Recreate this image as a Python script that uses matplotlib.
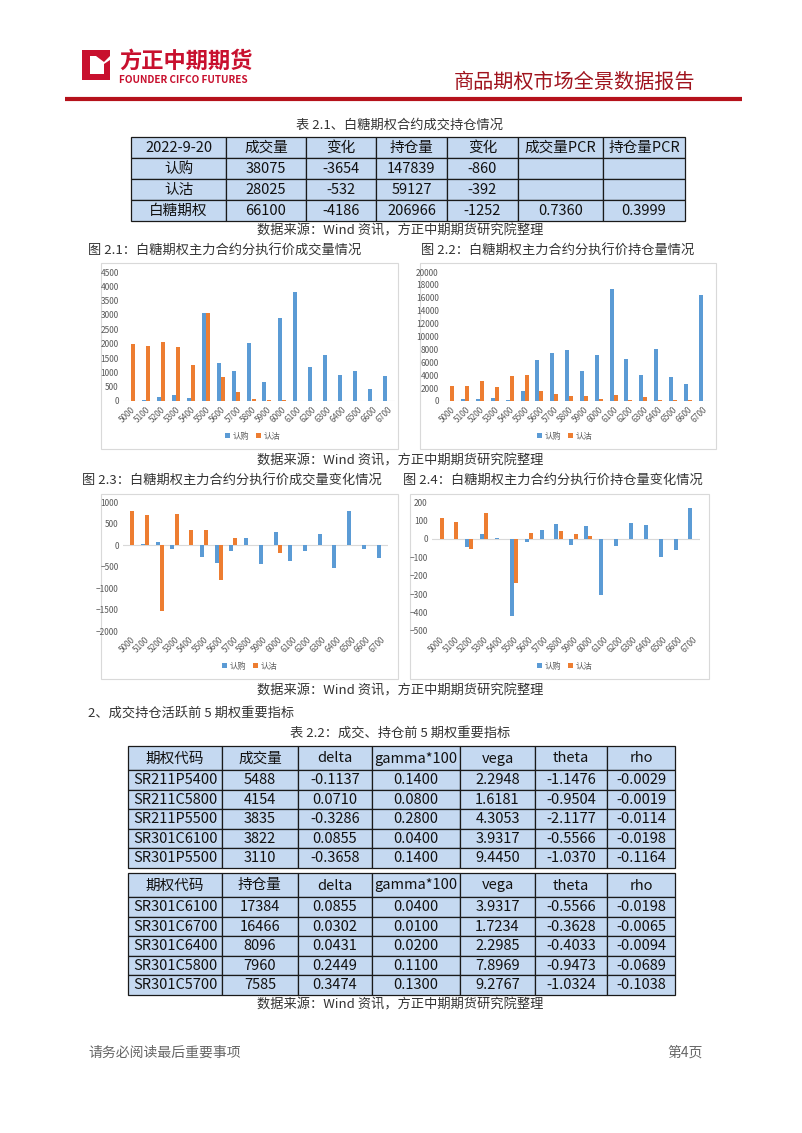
import matplotlib
matplotlib.use('Agg')
import matplotlib.pyplot as plt
from matplotlib.patches import Rectangle, Polygon
import numpy as np

plt.rcParams['font.family'] = ['Noto Sans CJK SC', 'DejaVu Sans']

W, H = 802, 1133

strikes = ['5000', '5100', '5200', '5300', '5400', '5500', '5600', '5700', '5800',
           '5900', '6000', '6100', '6200', '6300', '6400', '6500', '6600', '6700']

# fig 2.1 volume by strike
vol_call = [0, 30, 130, 200, 100, 3080, 1320, 1040, 2040, 680, 2880, 3800, 1190, 1620, 910, 1040, 430, 860]
vol_put = [1990, 1920, 2060, 1880, 1250, 3080, 820, 320, 80, 50, 50, 0, 0, 0, 0, 0, 0, 0]
# fig 2.2 open interest by strike
oi_call = [0, 250, 250, 450, 200, 1500, 6300, 7500, 7900, 4600, 7200, 17384, 6500, 4100, 8096, 3700, 2600, 16466]
oi_put = [2400, 2400, 3100, 2200, 3800, 4000, 1500, 1100, 700, 800, 350, 900, 150, 550, 150, 150, 100, 50]
# fig 2.3 volume change
dvol_call = [0, 30, 70, -90, 0, -290, -410, -140, 160, -440, 300, -370, -150, 260, -540, 790, -90, -310]
dvol_put = [790, 690, -1530, 710, 360, 350, -820, 170, 10, 0, -190, 0, 0, 0, 0, 0, 0, 0]
# fig 2.4 open interest change
doi_call = [0, 0, -45, 28, 5, -420, -18, 50, 80, -35, 68, -305, -38, 87, 75, -100, -62, 165]
doi_put = [112, 90, -55, 143, 0, -240, 30, 0, 45, 25, 18, 0, 0, 0, 0, 0, 0, 0]

# table 2.1
t1_header = ['2022-9-20', '成交量', '变化', '持仓量', '变化', '成交量PCR', '持仓量PCR']
t1_rows = [['认购', '38075', '-3654', '147839', '-860', '', ''],
           ['认沽', '28025', '-532', '59127', '-392', '', ''],
           ['白糖期权', '66100', '-4186', '206966', '-1252', '0.7360', '0.3999']]

# table 2.2
t2_header = ['期权代码', '成交量', 'delta', 'gamma*100', 'vega', 'theta', 'rho']
t2_rows = [['SR211P5400', '5488', '-0.1137', '0.1400', '2.2948', '-1.1476', '-0.0029'],
           ['SR211C5800', '4154', '0.0710', '0.0800', '1.6181', '-0.9504', '-0.0019'],
           ['SR211P5500', '3835', '-0.3286', '0.2800', '4.3053', '-2.1177', '-0.0114'],
           ['SR301C6100', '3822', '0.0855', '0.0400', '3.9317', '-0.5566', '-0.0198'],
           ['SR301P5500', '3110', '-0.3658', '0.1400', '9.4450', '-1.0370', '-0.1164']]
t3_header = ['期权代码', '持仓量', 'delta', 'gamma*100', 'vega', 'theta', 'rho']
t3_rows = [['SR301C6100', '17384', '0.0855', '0.0400', '3.9317', '-0.5566', '-0.0198'],
           ['SR301C6700', '16466', '0.0302', '0.0100', '1.7234', '-0.3628', '-0.0065'],
           ['SR301C6400', '8096', '0.0431', '0.0200', '2.2985', '-0.4033', '-0.0094'],
           ['SR301C5800', '7960', '0.2449', '0.1100', '7.8969', '-0.9473', '-0.0689'],
           ['SR301C5700', '7585', '0.3474', '0.1300', '9.2767', '-1.0324', '-0.1038']]

BLUE = '#5B9BD5'
ORANGE = '#ED7D31'
RED = '#C8102E'
CELL = '#C5D9F1'
SRC = '数据来源：Wind 资讯，方正中期期货研究院整理'

fig = plt.figure(figsize=(W / 100, H / 100), dpi=100)
page = fig.add_axes([0, 0, 1, 1])
page.set_xlim(0, W)
page.set_ylim(H, 0)
page.axis('off')


def box(x0, y0, x1, y1):
    return [x0 / W, 1 - y1 / H, (x1 - x0) / W, (y1 - y0) / H]


# header
page.add_patch(Polygon([[82, 50], [110, 50], [110, 56], [90, 56], [90, 74], [104, 74],
                        [104, 64], [110, 60], [110, 80], [82, 80]], closed=True,
                       facecolor=RED, edgecolor='none'))
page.add_patch(Polygon([[96, 56], [104, 56], [110, 50], [110, 56], [104, 62]], closed=True,
                       facecolor=RED, edgecolor='none'))
page.text(119, 61, '方正中期期货', fontsize=16, fontweight='bold', color=RED, va='center')
page.text(119, 80, 'FOUNDER CIFCO FUTURES', fontsize=7.2, fontweight='bold', color=RED, va='center')
page.text(695, 82, '商品期权市场全景数据报告', fontsize=14.5, color='#A0141E', va='center', ha='right')
page.plot([65, 742], [98.5, 98.5], color='#B5121B', lw=3, solid_capstyle='butt')


def draw_table(x_edges, y_top, row_h, header_h, header, rows, fs):
    y = y_top
    all_rows = [header] + rows
    for i, r in enumerate(all_rows):
        h = header_h if i == 0 else row_h
        for j, val in enumerate(r):
            page.add_patch(Rectangle((x_edges[j], y), x_edges[j + 1] - x_edges[j], h,
                                     facecolor=CELL, edgecolor='#1a1a1a', lw=0.9))
            page.text((x_edges[j] + x_edges[j + 1]) / 2, y + h / 2 + 0.5, val, fontsize=fs,
                      ha='center', va='center', color='#111111')
        y += h


# table 2.1
page.text(400, 125, '表 2.1、白糖期权合约成交持仓情况', fontsize=9.5, ha='center', va='center', color='#333333')
draw_table([131, 226, 306, 376, 447, 518, 603, 685], 137, 21, 21, t1_header, t1_rows, 10.5)
page.text(400, 231, SRC, fontsize=9.5, ha='center', va='center', color='#333333')
page.text(88, 251, '图 2.1：白糖期权主力合约分执行价成交量情况', fontsize=9.5, va='center', color='#333333')
page.text(421, 251, '图 2.2：白糖期权主力合约分执行价持仓量情况', fontsize=9.5, va='center', color='#333333')
page.text(400, 461, SRC, fontsize=9.5, ha='center', va='center', color='#333333')
page.text(82, 481, '图 2.3：白糖期权主力合约分执行价成交量变化情况', fontsize=9.5, va='center', color='#333333')
page.text(403, 481, '图 2.4：白糖期权主力合约分执行价持仓量变化情况', fontsize=9.5, va='center', color='#333333')
page.text(400, 691, SRC, fontsize=9.5, ha='center', va='center', color='#333333')

# chart frames
for x0, y0, x1, y1 in [(101, 263, 398, 449), (420, 263, 716, 449), (101, 494, 398, 679), (410, 494, 709, 679)]:
    page.add_patch(Rectangle((x0, y0), x1 - x0, y1 - y0, facecolor='white', edgecolor='#d9d9d9', lw=0.8))


def bar_chart(rect, calls, puts, ylim, yticks, legend_xy):
    ax = fig.add_axes(rect)
    ax.set_facecolor('none')
    x = np.arange(len(strikes))
    ax.bar(x - 0.14, calls, width=0.27, color=BLUE, label='认购')
    ax.bar(x + 0.14, puts, width=0.27, color=ORANGE, label='认沽')
    ax.set_xlim(-0.5, len(strikes) - 0.5)
    ax.set_ylim(*ylim)
    ax.set_yticks(yticks)
    ax.set_xticks(x)
    ax.set_xticklabels(strikes, rotation=45, ha='right', rotation_mode='anchor')
    ax.tick_params(labelsize=6, colors='#595959', length=0, pad=3)
    for s in ax.spines.values():
        s.set_visible(False)
    ax.axhline(0, color='#d9d9d9', lw=0.8, zorder=0)
    fig.legend(*ax.get_legend_handles_labels(), loc='center',
               bbox_to_anchor=(legend_xy[0] / W, 1 - legend_xy[1] / H), ncol=2, frameon=False,
               fontsize=6, handlelength=0.6, handleheight=0.6, handletextpad=0.3,
               columnspacing=0.8, labelcolor='#595959')
    return ax


bar_chart(box(123, 272, 395, 401), vol_call, vol_put, (0, 4500), range(0, 4501, 500), (253, 436))
bar_chart(box(443, 272, 710, 401), oi_call, oi_put, (0, 20000), range(0, 20001, 2000), (565, 436))
bar_chart(box(123, 502, 388, 631), dvol_call, dvol_put, (-2000, 1000), range(-2000, 1001, 500), (250, 666))
bar_chart(box(432, 502, 700, 631), doi_call, doi_put, (-500, 200), range(-500, 201, 100), (565, 666))

# section 2
page.text(88, 713, '2、成交持仓活跃前 5 期权重要指标', fontsize=9.5, va='center', color='#333333')
page.text(400, 733, '表 2.2：成交、持仓前 5 期权重要指标', fontsize=9.5, ha='center', va='center', color='#333333')
edges2 = [128, 222, 298, 372, 460, 535, 607, 675]
draw_table(edges2, 746, 19.5, 24, t2_header, t2_rows, 10.5)
draw_table(edges2, 873, 19.5, 24, t3_header, t3_rows, 10.5)
page.text(400, 1005, SRC, fontsize=9.5, ha='center', va='center', color='#333333')

# footer
page.text(88, 1053, '请务必阅读最后重要事项', fontsize=10, va='center', color='#666666')
page.text(703, 1053, '第4页', fontsize=10, va='center', ha='right', color='#666666')

fig.savefig('out.png', dpi=100)
